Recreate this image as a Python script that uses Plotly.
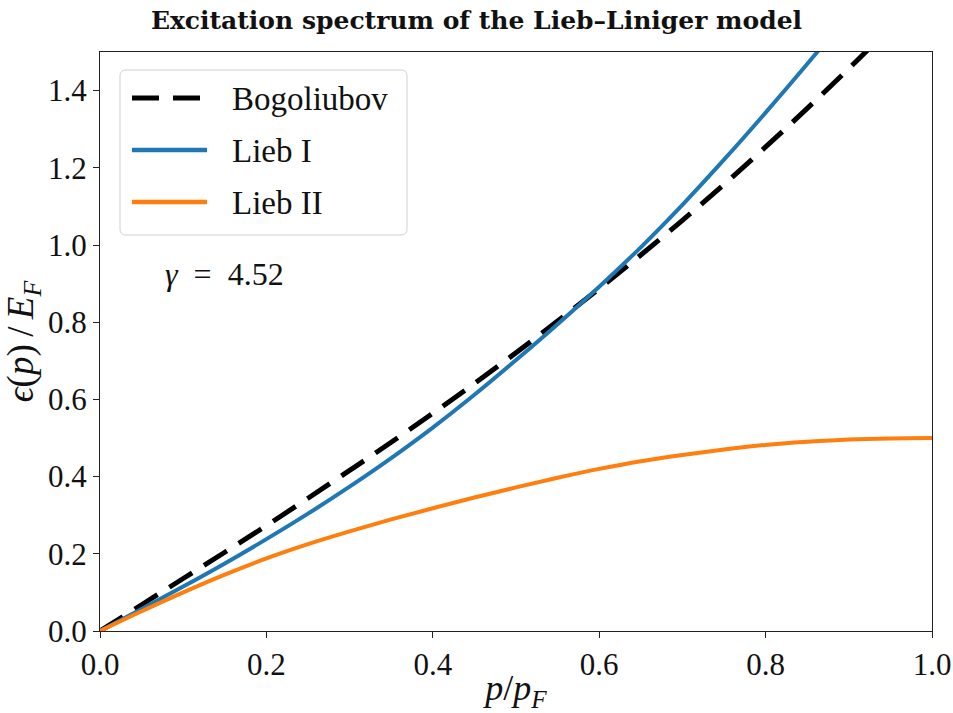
import plotly.graph_objects as go

p_vals = [0.0, 0.05, 0.1, 0.15, 0.2, 0.25, 0.3, 0.35, 0.4, 0.45, 0.5,
          0.55, 0.6, 0.65, 0.7, 0.75, 0.8, 0.85, 0.9, 0.95, 1.0]
bogoliubov = [0.0, 0.068, 0.136, 0.204, 0.273, 0.344, 0.416, 0.489, 0.564, 0.641, 0.721,
              0.803, 0.887, 0.974, 1.064, 1.157, 1.254, 1.354, 1.457, 1.564, 1.674]
lieb_1 = [0.0, 0.057, 0.115, 0.175, 0.238, 0.304, 0.374, 0.448, 0.527, 0.612, 0.702,
          0.795, 0.892, 0.994, 1.104, 1.221, 1.343, 1.469, 1.599, 1.733, 1.871]
lieb_2 = [0.0, 0.051, 0.100, 0.146, 0.188, 0.225, 0.258, 0.289, 0.318, 0.346, 0.372,
          0.397, 0.420, 0.440, 0.456, 0.470, 0.482, 0.490, 0.496, 0.499, 0.500]
x_ticks = [0.0, 0.2, 0.4, 0.6, 0.8, 1.0]
y_ticks = [0.0, 0.2, 0.4, 0.6, 0.8, 1.0, 1.2, 1.4]
series_names = ["Bogoliubov", "Lieb I", "Lieb II"]
gamma_label = "<i>γ</i>\u2002=\u20024.52"

FONT = "Liberation Serif"
BLUE = "#1f77b4"
ORANGE = "#ff7f0e"

fig = go.Figure()
fig.add_trace(go.Scatter(x=p_vals, y=bogoliubov, mode="lines", name=series_names[0],
                         line=dict(color="black", width=5, dash="27px,14px", shape="spline"),
                         showlegend=False))
fig.add_trace(go.Scatter(x=p_vals, y=lieb_1, mode="lines", name=series_names[1],
                         line=dict(color=BLUE, width=4, shape="spline"), showlegend=False))
fig.add_trace(go.Scatter(x=p_vals, y=lieb_2, mode="lines", name=series_names[2],
                         line=dict(color=ORANGE, width=4, shape="spline"), showlegend=False))

axis_common = dict(showgrid=False, zeroline=False, showline=True, linecolor="#222",
                   linewidth=1, mirror=True, ticks="outside", ticklen=6, tickcolor="#222",
                   automargin=False,
                   tickfont=dict(family=FONT, size=31, color="#111"))
fig.update_xaxes(range=[0, 1], tickvals=x_ticks, ticktext=[f"{v:.1f}" for v in x_ticks],
                 title=dict(text="<i>p</i>/<i>p</i><sub><i>F</i></sub>",
                            font=dict(family=FONT, size=36, color="#111"), standoff=10),
                 **axis_common)
fig.update_yaxes(range=[0, 1.5], tickvals=y_ticks, ticktext=[f"{v:.1f}" for v in y_ticks],
                 title=dict(text="<i>ϵ</i>(<i>p</i>)\u2009/\u2009<i>E</i><sub><i>F</i></sub>",
                            font=dict(family=FONT, size=37, color="#111"), standoff=8),
                 **axis_common)

# legend (drawn manually to match long line samples)
W, H = 953, 713
L, R, T, B = 100, 21, 52, 82
pw, ph = W - L - R, H - T - B

def px_x(px):
    return (px - L) / pw

def px_y(py):
    return (H - B - py) / ph

shapes = []
bx0, bx1, by0, by1 = px_x(120), px_x(407), px_y(235), px_y(70)
rx, ry = 6 / pw, 6 / ph
path = (f"M {bx0+rx},{by1} L {bx1-rx},{by1} Q {bx1},{by1} {bx1},{by1-ry} "
        f"L {bx1},{by0+ry} Q {bx1},{by0} {bx1-rx},{by0} L {bx0+rx},{by0} "
        f"Q {bx0},{by0} {bx0},{by0+ry} L {bx0},{by1-ry} Q {bx0},{by1} {bx0+rx},{by1} Z")
shapes.append(dict(type="path", xref="paper", yref="paper", path=path,
                   line=dict(color="#d0d0d0", width=1), fillcolor="rgba(255,255,255,0.85)"))
entries = [(98, dict(color="black", width=5, dash="27px,14px")),
           (150, dict(color=BLUE, width=4.5)),
           (202, dict(color=ORANGE, width=4.5))]
annotations = []
for (yy, ln), name in zip(entries, series_names):
    shapes.append(dict(type="line", xref="paper", yref="paper",
                       x0=px_x(132), x1=px_x(207), y0=px_y(yy), y1=px_y(yy), line=ln))
    annotations.append(dict(xref="paper", yref="paper", x=px_x(230), y=px_y(yy + 1),
                            text=name, showarrow=False, xanchor="left", yanchor="middle",
                            font=dict(family=FONT, size=33, color="#111")))

annotations.append(dict(xref="x", yref="y", x=0.076, y=0.925, text=gamma_label,
                        showarrow=False, xanchor="left", yanchor="middle",
                        font=dict(family=FONT, size=32, color="#111")))

fig.update_layout(
    width=W, height=H,
    margin=dict(l=L, r=R, t=T, b=B),
    paper_bgcolor="white", plot_bgcolor="white",
    title=dict(text="<b>Excitation spectrum of the Lieb–Liniger model</b>",
               x=0.5, xanchor="center", y=1 - 20 / H, yanchor="middle",
               font=dict(family="DejaVu Serif", size=25, color="#111")),
    shapes=shapes, annotations=annotations,
)

fig.write_html("out.html")
